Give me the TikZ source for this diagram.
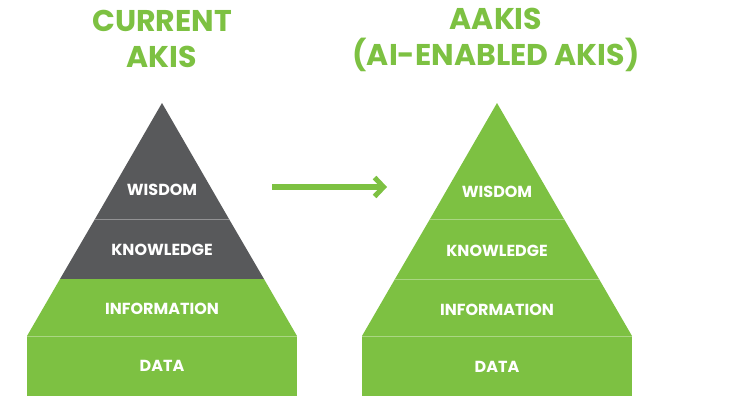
\documentclass[tikz,border=0pt]{standalone}
\usepackage{fontspec}
\setmainfont{Poppins}
\usepackage{tikz}
\usetikzlibrary{arrows.meta, positioning, calc}
\definecolor{akisgreen}{RGB}{125, 193, 66}
\definecolor{akisgray}{RGB}{88, 89, 91}

\tikzset{
  layer/.style={fill=#1, draw=none},
  divider/.style={draw=white, draw opacity=0.35, line width=1pt},
  lbl/.style={text=white, font=\fontsize{16}{18}\selectfont\bfseries, inner sep=0pt},
  headline/.style={text=akisgreen, align=center, inner sep=0pt, font=\fontsize{30}{36}\selectfont\bfseries},
  shiftarrow/.style={draw=akisgreen, line width=6pt, -{Straight Barb[length=9pt, width=19pt, line width=5pt]}}
}

\begin{document}
\begin{tikzpicture}[x=1pt, y=-1pt]
  \useasboundingbox (0,0) rectangle (738,397);

  % Titles
  \node[headline] (title-current) at (162,39) {CURRENT\\AKIS};
  \node[headline] (title-aakis) at (496,40) {AAKIS\\(AI-ENABLED AKIS)};

  % Current AKIS pyramid
  \fill[layer=akisgray] (162,103) -- (229,219) -- (95,219) -- cycle;
  \fill[layer=akisgray] (95,219) -- (229,219) -- (264,279) -- (60,279) -- cycle;
  \fill[layer=akisgreen] (60,279) -- (264,279) -- (297,336) -- (27,336) -- cycle;
  \fill[layer=akisgreen] (27,336) -- (297,336) -- (297,396) -- (27,396) -- cycle;
  \draw[divider] (95,219) -- (229,219);
  \draw[divider] (27,336) -- (297,336);
  \node[lbl] (cur-wisdom) at (162,190) {WISDOM};
  \node[lbl] (cur-knowledge) at (162,250) {KNOWLEDGE};
  \node[lbl] (cur-information) at (162,309) {INFORMATION};
  \node[lbl] (cur-data) at (162,366) {DATA};

  % AI-enabled AKIS pyramid
  \begin{scope}[xshift=335pt]
    \fill[layer=akisgreen] (162,103) -- (229,219) -- (95,219) -- cycle;
    \fill[layer=akisgreen] (95,219) -- (229,219) -- (264,279) -- (60,279) -- cycle;
    \fill[layer=akisgreen] (60,279) -- (264,279) -- (297,336) -- (27,336) -- cycle;
    \fill[layer=akisgreen] (27,336) -- (297,336) -- (297,396) -- (27,396) -- cycle;
    \draw[divider] (95,219) -- (229,219);
    \draw[divider] (60,279) -- (264,279);
    \draw[divider] (27,336) -- (297,336);
    \node[lbl] (ai-wisdom) at (162,192) {WISDOM};
    \node[lbl] (ai-knowledge) at (162,251) {KNOWLEDGE};
    \node[lbl] (ai-information) at (162,310) {INFORMATION};
    \node[lbl] (ai-data) at (162,367) {DATA};
  \end{scope}

  % Transition arrow
  \coordinate (arrowstart) at (272,187);
  \coordinate (arrowend) at (387,187);
  \draw[shiftarrow] (arrowstart) -- (arrowend);
\end{tikzpicture}
\end{document}
